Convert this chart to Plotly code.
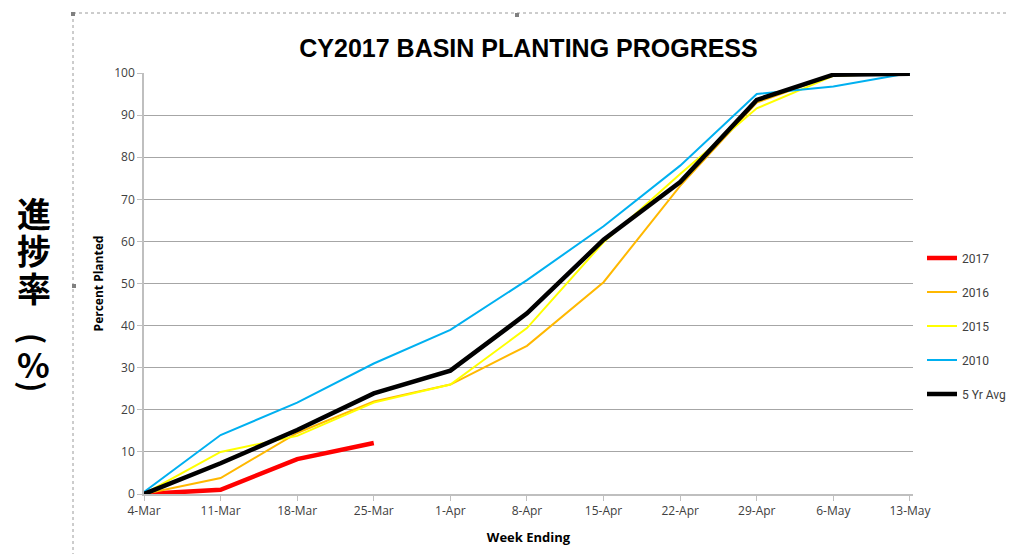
import plotly.graph_objects as go

weeks = ["4-Mar", "11-Mar", "18-Mar", "25-Mar", "1-Apr", "8-Apr", "15-Apr",
         "22-Apr", "29-Apr", "6-May", "13-May"]
y2017 = [0, 1, 8.3, 12.1]
y2016 = [0, 3.8, 14.5, 22, 26, 35.2, 50.3, 73.2, 93, 99.5, 100]
y2015 = [0, 10, 13.8, 21.7, 26, 39.4, 59.8, 76, 91.6, 99.3, 100]
y2010 = [0.5, 14, 21.7, 31, 39, 50.8, 63.6, 78, 95, 96.8, 100]
y5avg = [0, 7.3, 15.2, 23.9, 29.3, 42.9, 60.4, 74.1, 93.6, 99.6, 99.8]
yticks = [0, 10, 20, 30, 40, 50, 60, 70, 80, 90, 100]

series = [
    ("2017", weeks[:len(y2017)], y2017, "#FF0000", 4.5),
    ("2016", weeks, y2016, "#FFB800", 2),
    ("2015", weeks, y2015, "#FFFF00", 2),
    ("2010", weeks, y2010, "#00B0F0", 2),
    ("5 Yr Avg", weeks, y5avg, "#000000", 4.5),
]

fig = go.Figure()
for i, (name, xs, ys, col, w) in enumerate(series):
    fig.add_trace(go.Scatter(x=xs, y=ys, name=name, mode="lines",
                             line=dict(color=col, width=w),
                             legendgroup=f"g{i}"))

OFF = 8  # page body margin
W, H = 1015 - OFF, 554 - OFF
# plot area in screen pixels
L, R, T, B = 144, 913, 73, 494

def px_x(p):
    return (p - L) / (R - L)

def px_y(p):
    return (B - p) / (B - T)

fig.update_layout(
    width=W, height=H,
    margin=dict(l=L - OFF, r=W - (R - OFF), t=T - OFF, b=H - (B - OFF), autoexpand=False),
    paper_bgcolor="white", plot_bgcolor="white",
    font=dict(family="Open Sans, Liberation Sans, sans-serif", color="#404040", size=12),
    title=dict(text="<b>CY2017 BASIN PLANTING PROGRESS</b>",
               font=dict(family="Liberation Sans Narrow, Liberation Sans", size=25, color="#000000"),
               x=((L + R) / 2 - OFF) / W, xanchor="center", y=1 - (48 - OFF) / H, yanchor="middle"),
    showlegend=True,
    legend=dict(x=px_x(922), xanchor="left", y=px_y(243.5), yanchor="top",
                traceorder="grouped", tracegroupgap=15, itemwidth=30,
                font=dict(family="Roboto, Open Sans, Liberation Sans", size=12, color="#404040"),
                bgcolor="rgba(0,0,0,0)"),
    xaxis=dict(type="category", categoryorder="array", categoryarray=weeks,
               range=[0, 10.04], showgrid=False, automargin=False,
               showline=True, linecolor="#BFBFBF", linewidth=1.5,
               ticks="outside", ticklen=5, tickcolor="#BFBFBF",
               tickfont=dict(size=12, color="#404040"),
               title=dict(text="<b>Week Ending</b>", standoff=15,
                          font=dict(size=13, color="#000000")),
               zeroline=False, fixedrange=True),
    yaxis=dict(range=[0, 100], tickvals=yticks, showgrid=True, gridcolor="#A6A6A6",
               gridwidth=1, showline=True, linecolor="#BFBFBF", linewidth=1.5,
               automargin=False,
               ticks="outside", ticklen=5, tickcolor="#BFBFBF",
               tickfont=dict(size=12, color="#404040"),
               title=dict(text="<b>Percent Planted</b>", standoff=8,
                          font=dict(size=12, color="#000000")),
               zeroline=False),
)

# Dotted outer frame (chart object border)
fig.add_shape(type="line", xref="paper", yref="paper",
              x0=px_x(73), y0=px_y(13), x1=px_x(1020), y1=px_y(13),
              line=dict(color="#9A9A9A", width=1, dash="dot"))
fig.add_shape(type="line", xref="paper", yref="paper",
              x0=px_x(73), y0=px_y(13), x1=px_x(73), y1=px_y(560),
              line=dict(color="#9A9A9A", width=1, dash="dot"))
for (hx, hy) in [(73, 14), (517, 15), (74, 286)]:
    fig.add_shape(type="rect", xref="paper", yref="paper",
                  x0=px_x(hx - 2), x1=px_x(hx + 2), y0=px_y(hy - 2), y1=px_y(hy + 2),
                  line=dict(width=0), fillcolor="#808080")

# Vertical Japanese axis label
chars = [("進", 212, 0, 34), ("捗", 250, 0, 34), ("率", 287, 0, 34),
         ("(", 339, 90, 30), ("%", 363, 0, 34), (")", 387, 90, 30)]
for ch, cy, ang, sz in chars:
    fig.add_annotation(text=f"<b>{ch}</b>", xref="paper", yref="paper",
                       x=px_x(34), y=px_y(cy), xanchor="center", yanchor="middle",
                       showarrow=False, textangle=ang,
                       font=dict(family="Noto Sans CJK JP", size=sz, color="#000000"))

fig.write_html("out.html")
